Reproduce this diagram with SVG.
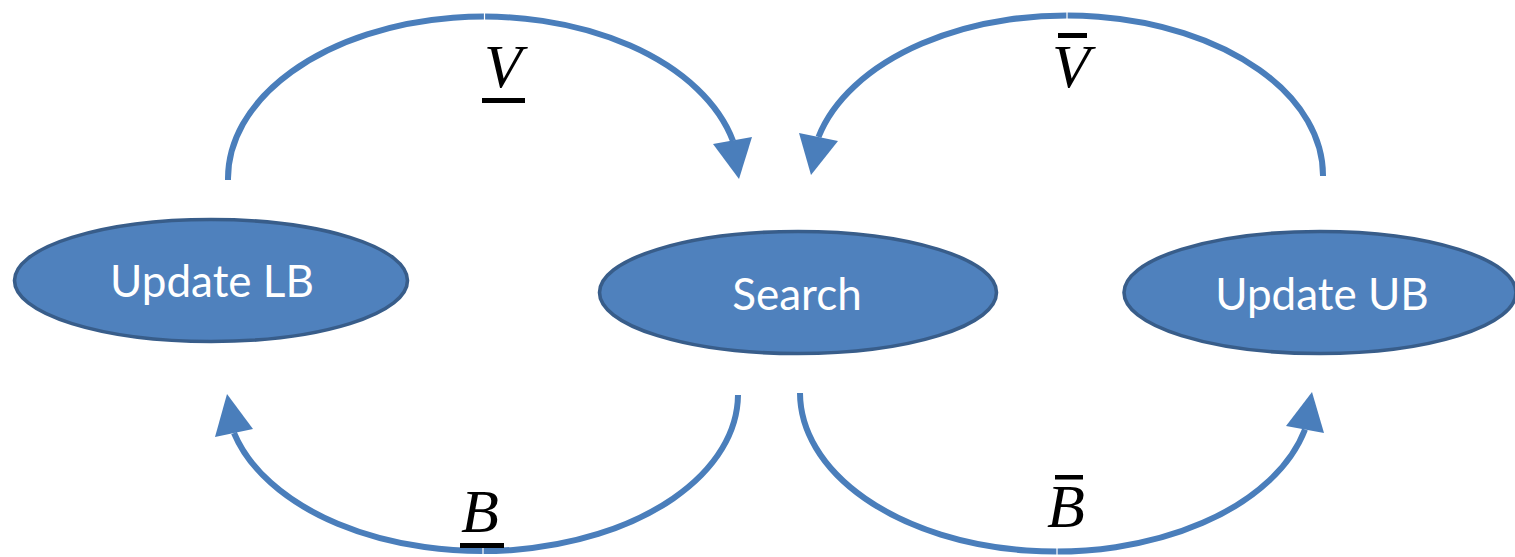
<svg xmlns="http://www.w3.org/2000/svg" width="1515" height="557" viewBox="0 0 1515 557">
  <style>
    .node ellipse { fill: #4f81bd; stroke: #385d8a; stroke-width: 3.6; }
    .node text { fill: #ffffff; font-family: Lato, "Liberation Sans", sans-serif; font-size: 44px; text-anchor: middle; }
    .arc { fill: none; stroke: #4a7ebb; stroke-width: 6; }
    .head { fill: #4a7ebb; stroke: none; }
    .seam { stroke: #ffffff; stroke-width: 1.2; }
    .sym { fill: #000000; font-family: "Liberation Serif", "DejaVu Serif", serif; font-style: italic; font-size: 62px; text-anchor: middle; }
    .bar { fill: #000000; }
  </style>

  <rect width="1515" height="557" fill="#ffffff"/>

  <!-- loops between the three steps -->
  <g id="connectors">
    <!-- lower bound V into Search -->
    <path class="arc" d="M 228 180 A 256 162 0 0 1 733 141"/>
    <polygon class="head" points="713,144 752,137 739,179"/>
    <line class="seam" x1="484.5" y1="13" x2="484.5" y2="24"/>

    <!-- upper bound V into Search -->
    <path class="arc" d="M 1323 176 A 256 160 0 0 0 818.5 137"/>
    <polygon class="head" points="799,133 838,141 811,175"/>
    <line class="seam" x1="1067" y1="9" x2="1067" y2="20"/>

    <!-- lower bound B from Search -->
    <path class="arc" d="M 738 395 A 256 157 0 0 1 234 433"/>
    <polygon class="head" points="227,394 215,437 253,429"/>
    <line class="seam" x1="483" y1="546" x2="483" y2="557"/>

    <!-- upper bound B from Search -->
    <path class="arc" d="M 800 393 A 256 159 0 0 0 1305 429.5"/>
    <polygon class="head" points="1312,392 1286,426 1324,433"/>
    <line class="seam" x1="1057" y1="546" x2="1057" y2="557"/>
  </g>

  <!-- bound symbols -->
  <g id="labels">
    <text class="sym" x="503" y="87">V</text>
    <rect class="bar" x="482" y="98" width="43" height="5"/>

    <text class="sym" x="1071" y="87">V</text>
    <rect class="bar" x="1058" y="33" width="29" height="5"/>

    <text class="sym" x="480" y="532">B</text>
    <rect class="bar" x="460" y="543" width="44" height="5"/>

    <text class="sym" x="1066" y="527">B</text>
    <rect class="bar" x="1055" y="475" width="28" height="4.5"/>
  </g>

  <g id="update-lb" class="node">
    <ellipse cx="211" cy="280.5" rx="196.5" ry="61"/>
    <text x="212" y="297">Update LB</text>
  </g>

  <g id="search" class="node">
    <ellipse cx="798" cy="292.5" rx="198.5" ry="61"/>
    <text x="797" y="310">Search</text>
  </g>

  <g id="update-ub" class="node">
    <ellipse cx="1320" cy="292.5" rx="196" ry="61"/>
    <text x="1322" y="310">Update UB</text>
  </g>
</svg>
